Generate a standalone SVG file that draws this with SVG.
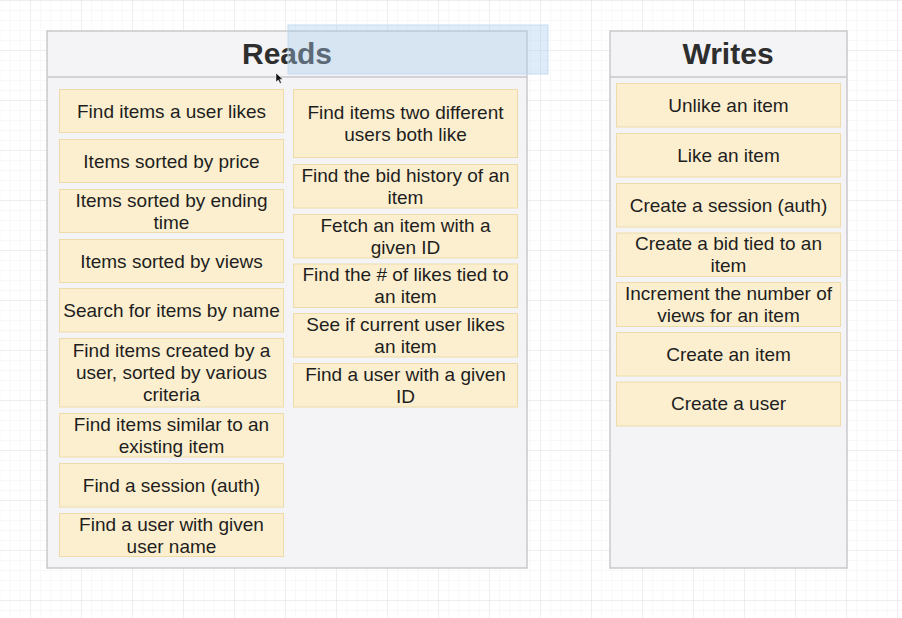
<svg xmlns="http://www.w3.org/2000/svg" width="902" height="618" viewBox="0 0 902 618">
  <defs>
    <pattern id="gridMinor" x="30" y="0" width="10.2" height="10" patternUnits="userSpaceOnUse">
      <path d="M0 0H10.2M0 0V10" fill="none" stroke="#f2f2f2" stroke-width="1"/>
    </pattern>
    <pattern id="gridMajor" x="30" y="0" width="51" height="50" patternUnits="userSpaceOnUse">
      <path d="M0 0H51M0 0V50" fill="none" stroke="#e3e3e3" stroke-width="1"/>
    </pattern>
    <style>
      .panel { fill: #f4f4f6; stroke: #c9c9cc; stroke-width: 1.5; }
      .divider { stroke: #c9c9cc; stroke-width: 1.5; }
      .title { font-family: "Liberation Sans", Arial, sans-serif; font-size: 30px; font-weight: bold; fill: #2e2e2e; text-anchor: middle; }
      .card { fill: #fcefcf; stroke: #eddba9; stroke-width: 1; }
      .label { font-family: "Liberation Sans", Arial, sans-serif; font-size: 19px; fill: #1e1e1e; text-anchor: middle; }
    </style>
  </defs>

  <!-- canvas grid -->
  <rect width="902" height="618" fill="#ffffff"/>
  <rect width="902" height="618" fill="url(#gridMinor)"/>
  <rect width="902" height="618" fill="url(#gridMajor)"/>

  <!-- Reads panel -->
  <g id="reads">
    <rect class="panel" x="47" y="31" width="480" height="537"/>
    <line class="divider" x1="47" y1="77" x2="527" y2="77"/>
    <text class="title" x="287" y="64">Reads</text>
  </g>

  <!-- Writes panel -->
  <g id="writes">
    <rect class="panel" x="610" y="31" width="237" height="537"/>
    <line class="divider" x1="610" y1="77" x2="847" y2="77"/>
    <text class="title" x="728" y="64">Writes</text>
  </g>

  <!-- Reads: left column -->
  <g id="r-user-likes">
    <rect class="card" x="59.5" y="89.5" width="224" height="43"/>
    <text class="label" x="171.5" y="117.5">Find items a user likes</text>
  </g>
  <g id="r-sorted-price">
    <rect class="card" x="59.5" y="139.5" width="224" height="43"/>
    <text class="label" x="171.5" y="167.5">Items sorted by price</text>
  </g>
  <g id="r-sorted-ending">
    <rect class="card" x="59.5" y="189.5" width="224" height="43"/>
    <text class="label" x="171.5" y="206.5">Items sorted by ending</text>
    <text class="label" x="171.5" y="228.5">time</text>
  </g>
  <g id="r-sorted-views">
    <rect class="card" x="59.5" y="239.5" width="224" height="43"/>
    <text class="label" x="171.5" y="267.5">Items sorted by views</text>
  </g>
  <g id="r-search-name">
    <rect class="card" x="59.5" y="288.5" width="224" height="43.5"/>
    <text class="label" x="171.5" y="316.5">Search for items by name</text>
  </g>
  <g id="r-created-by-user">
    <rect class="card" x="59.5" y="338.5" width="224" height="68.5"/>
    <text class="label" x="171.5" y="357">Find items created by a</text>
    <text class="label" x="171.5" y="379">user, sorted by various</text>
    <text class="label" x="171.5" y="401">criteria</text>
  </g>
  <g id="r-similar">
    <rect class="card" x="59.5" y="413.5" width="224" height="43.5"/>
    <text class="label" x="171.5" y="430.5">Find items similar to an</text>
    <text class="label" x="171.5" y="452.5">existing item</text>
  </g>
  <g id="r-session">
    <rect class="card" x="59.5" y="463.5" width="224" height="43.5"/>
    <text class="label" x="171.5" y="491.5">Find a session (auth)</text>
  </g>
  <g id="r-user-by-name">
    <rect class="card" x="59.5" y="513.5" width="224" height="43"/>
    <text class="label" x="171.5" y="530.5">Find a user with given</text>
    <text class="label" x="171.5" y="552.5">user name</text>
  </g>

  <!-- Reads: right column -->
  <g id="r-both-like">
    <rect class="card" x="293.5" y="89.5" width="224" height="68"/>
    <text class="label" x="405.5" y="118.5">Find items two different</text>
    <text class="label" x="405.5" y="140.5">users both like</text>
  </g>
  <g id="r-bid-history">
    <rect class="card" x="293.5" y="164.5" width="224" height="43.5"/>
    <text class="label" x="405.5" y="181.5">Find the bid history of an</text>
    <text class="label" x="405.5" y="203.5">item</text>
  </g>
  <g id="r-item-by-id">
    <rect class="card" x="293.5" y="214.5" width="224" height="43.5"/>
    <text class="label" x="405.5" y="231.5">Fetch an item with a</text>
    <text class="label" x="405.5" y="253.5">given ID</text>
  </g>
  <g id="r-like-count">
    <rect class="card" x="293.5" y="264" width="224" height="43.5"/>
    <text class="label" x="405.5" y="281">Find the # of likes tied to</text>
    <text class="label" x="405.5" y="303">an item</text>
  </g>
  <g id="r-current-likes">
    <rect class="card" x="293.5" y="313.5" width="224" height="43.5"/>
    <text class="label" x="405.5" y="330.5">See if current user likes</text>
    <text class="label" x="405.5" y="352.5">an item</text>
  </g>
  <g id="r-user-by-id">
    <rect class="card" x="293.5" y="363.5" width="224" height="43.5"/>
    <text class="label" x="405.5" y="380.5">Find a user with a given</text>
    <text class="label" x="405.5" y="402.5">ID</text>
  </g>

  <!-- Writes column -->
  <g id="w-unlike">
    <rect class="card" x="616.5" y="83.5" width="224" height="43.5"/>
    <text class="label" x="728.5" y="111.5">Unlike an item</text>
  </g>
  <g id="w-like">
    <rect class="card" x="616.5" y="133.5" width="224" height="43.5"/>
    <text class="label" x="728.5" y="161.5">Like an item</text>
  </g>
  <g id="w-session">
    <rect class="card" x="616.5" y="183.5" width="224" height="43.5"/>
    <text class="label" x="728.5" y="211.5">Create a session (auth)</text>
  </g>
  <g id="w-bid">
    <rect class="card" x="616.5" y="233" width="224" height="43.5"/>
    <text class="label" x="728.5" y="250">Create a bid tied to an</text>
    <text class="label" x="728.5" y="272">item</text>
  </g>
  <g id="w-views">
    <rect class="card" x="616.5" y="282.5" width="224" height="44"/>
    <text class="label" x="728.5" y="299.5">Increment the number of</text>
    <text class="label" x="728.5" y="321.5">views for an item</text>
  </g>
  <g id="w-item">
    <rect class="card" x="616.5" y="332.5" width="224" height="43.5"/>
    <text class="label" x="728.5" y="360.5">Create an item</text>
  </g>
  <g id="w-user">
    <rect class="card" x="616.5" y="382" width="224" height="44"/>
    <text class="label" x="728.5" y="410">Create a user</text>
  </g>

  <!-- connectors (none drawn) -->
  <g id="connectors"/>

  <!-- selection highlight over the header -->
  <rect x="288" y="25" width="260" height="49" fill="#a9cdef" fill-opacity="0.38" stroke="#c4dbf0" stroke-width="1"/>

  <!-- pointer -->
  <path d="M276 73 L276 82 L278.3 80 L280 83.5 L281.4 82.8 L279.8 79.4 L282.6 79.2 Z" fill="#111" stroke="#fff" stroke-width="0.5"/>
</svg>
